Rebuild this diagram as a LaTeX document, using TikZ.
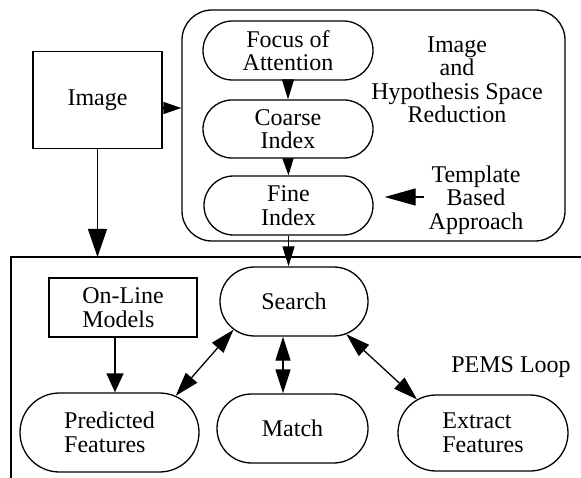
\documentclass[tikz,border=0pt]{standalone}
\usepackage{fontspec}
\setmainfont{Liberation Serif}
\usetikzlibrary{arrows.meta,shapes.misc}
\tikzset{
  base/.style={line width=1.3pt},
  txt/.style={font=\fontsize{24}{23.5}\selectfont, inner sep=0pt},
  stadium/.style={base, draw, rounded rectangle, txt, align=center},
  box/.style={base, draw, rectangle, txt, align=center},
  arr/.style={base, -{Triangle[length=20pt,width=12pt]}},
  darr/.style={base, {Triangle[length=24pt,width=15pt]}-{Triangle[length=24pt,width=15pt]}},
}
\begin{document}
\begin{tikzpicture}[x=1pt,y=-1pt]
\useasboundingbox (0,0) rectangle (581,478);

% top region
\node[box, minimum width=129pt, minimum height=97pt] (image) at (97.5,100) {Image};
\node[base, draw, rectangle, rounded corners=30pt, minimum width=383pt, minimum height=231pt] (bigbox) at (373.5,125.5) {};

\node[stadium, minimum width=170pt, minimum height=59pt] (focus) at (288,50.5) {Focus of\\Attention};
\node[stadium, minimum width=170pt, minimum height=58pt] (coarse) at (288,129) {Coarse\\Index};
\node[stadium, minimum width=169pt, minimum height=59pt] (fine) at (288.5,205.5) {Fine\\Index};

\node[txt, align=center] (reduction) at (457,80) {Image\\and\\Hypothesis Space\\Reduction};
\node[txt, align=center] (template) at (476,200) {Template\\Based\\Approach};

\coordinate (rowA) at (0,108);
\draw[arr, -{Triangle[length=18pt,width=12pt]}] (image.east |- rowA) -- (bigbox.west |- rowA);
\draw[arr] (focus.south) -- (coarse.north);
\draw[arr, -{Triangle[length=17pt,width=11pt]}] (coarse.south) -- (fine.north);

\coordinate (tplA) at (424,197);
\draw[arr, -{Triangle[length=31pt,width=17pt]}, shorten >=11pt] (tplA) -- (fine.east |- tplA);

% bottom region
\coordinate (pemsTL) at (11,257);
\draw[base] (pemsTL |- 0,478) -- (pemsTL) -- (581,257);

\draw[arr, -{Triangle[length=28pt,width=19pt]}] (image.south) -- (image.south |- pemsTL);

\node[stadium, minimum width=148pt, minimum height=69pt] (search) at (294,301.5) {Search};
\draw[arr] (fine.south) -- (fine.south |- search.north);

\node[box, minimum width=148pt, minimum height=59pt, align=left] (online) at (123,307.5) {On-Line\\Models};
\node[stadium, minimum width=179pt, minimum height=79pt, align=left] (predicted) at (109.5,432.5) {Predicted\\Features};
\node[stadium, minimum width=151pt, minimum height=69pt] (match) at (292.5,428.5) {Match};
\node[stadium, minimum width=170pt, minimum height=76pt, align=left] (extract) at (483,433) {Extract\\Features};
\node[txt] (pems) at (511,367) {PEMS Loop};

\coordinate (onlineX) at (115,0);
\draw[arr, -{Triangle[length=19pt,width=17pt]}] (onlineX |- online.south) -- (onlineX |- predicted.north);

\draw[darr] (search.205) -- (predicted.29);
\coordinate (matchX) at (283,0);
\draw[darr] (matchX |- search.south) -- (matchX |- match.north);
\draw[darr] (search.328) -- (extract.153);
\end{tikzpicture}
\end{document}
